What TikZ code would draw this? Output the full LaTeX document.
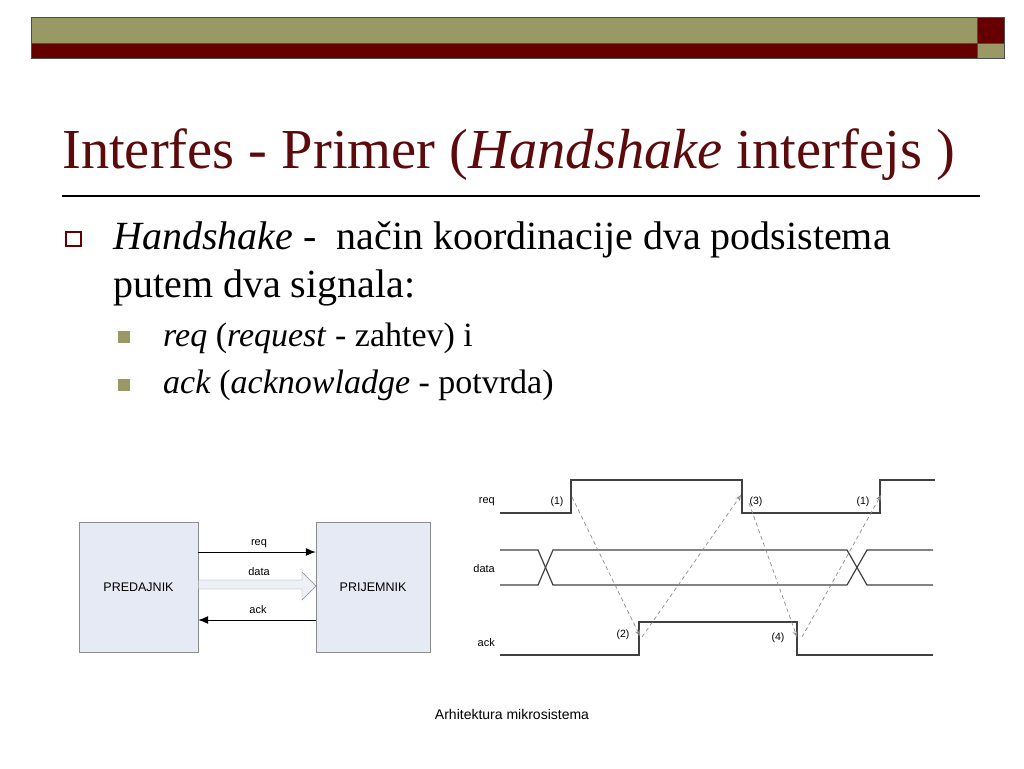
\documentclass[tikz,border=0pt]{standalone}
\usepackage{fontspec}
\setmainfont{Liberation Serif}
\setsansfont{Liberation Sans}
\usetikzlibrary{arrows.meta}
\definecolor{titlered}{RGB}{92,10,12}
\definecolor{barred}{RGB}{102,0,0}
\definecolor{barolive}{RGB}{153,153,102}
\definecolor{boxfill}{RGB}{230,234,244}
\definecolor{datafill}{RGB}{238,240,248}

\begin{document}
\begin{tikzpicture}[x=1pt, y=-1pt,
  box/.style={draw=black!45, fill=boxfill, minimum width=119, minimum height=130, inner sep=0, font=\sffamily\fontsize{12.5}{14}\selectfont},
  lbl/.style={inner sep=0, font=\sffamily\fontsize{11}{13}\selectfont},
  txt/.style={anchor=base west, inner sep=0},
  sig/.style={line width=1.2, black!75},
  hs/.style={dash pattern=on 4pt off 3pt, black!45, line width=0.7, -{Stealth[length=6pt, width=5pt, open]}}] % 座標はピクセル単位
  \useasboundingbox (0,0) rectangle (1024,768); % 余白込みの大きさ

  \draw[black!70, fill=barolive] (31,17) rectangle (977,43); % 上の帯
  \draw[black!70, fill=barred] (31,43) rectangle (977,58);
  \draw[black!70, fill=barred] (977,17) rectangle (1004,43);
  \draw[black!70, fill=barolive] (977,43) rectangle (1004,58);

  \node[txt, text=titlered, font=\fontsize{56.5}{60}\selectfont] (title) at (62,168) {Interfes - Primer (\textit{Handshake} interfejs )}; % 見出し
  \draw[line width=1.3] (62,196) -- (980,196); % 見出しの下線

  \draw[barred, line width=2] (66,232) rectangle (81,246); % 箇条書きの記号
  \node[txt, font=\fontsize{40}{44}\selectfont] (item) at (113,249) {\textit{Handshake} -~ način koordinacije dva podsistema};
  \node[txt, font=\fontsize{40}{44}\selectfont] (itemb) at (113,297) {putem dva signala:};
  \fill[barolive] (118,331) rectangle (130,343);
  \fill[barolive] (118,379) rectangle (130,391);
  \node[txt, font=\fontsize{34}{38}\selectfont] (sreq) at (163,346) {\textit{req} (\textit{request} - zahtev) i};
  \node[txt, font=\fontsize{34}{38}\selectfont] (sack) at (163,393) {\textit{ack} (\textit{acknowladge} - potvrda)};

  % ブロック図
  \node[box] (pred) at (138.5,587.5) {PREDAJNIK};
  \node[box, minimum width=114] (prij) at (373,587.5) {PRIJEMNIK};
  \draw[line width=1, -{Latex[length=10pt, width=8pt]}] ([yshift=35.5pt]pred.east) -- ([yshift=35.5pt]prij.west);
  \draw[black!45, fill=datafill] (198.5,580) -- (302,580) -- (302,572) -- (316,586) -- (302,600) -- (302,589) -- (198.5,589); % 中抜きの矢印
  \draw[line width=1, -{Latex[length=10pt, width=8pt]}] ([yshift=-32.5pt]prij.west) -- ([yshift=-32.5pt]pred.east);
  \node[lbl] (lreq) at (259,544) {req};
  \node[lbl] (ldata) at (259,572) {data};
  \node[lbl] (lack) at (258,610) {ack};

  % タイミング図
  \node[lbl, anchor=east] (treq) at (495,502) {req};
  \node[lbl, anchor=east] (tdata) at (495,569) {data};
  \node[lbl, anchor=east] (tack) at (495,643) {ack};
  \draw[sig] (500,513) -- (571,513) -- (571,480) -- (742,480) -- (742,513) -- (880,513) -- (880,480) -- (935,480); % req
  \draw[sig] (500,550) -- (538,550) -- (553,585) -- (847,585) -- (867,550) -- (933,550); % data
  \draw[sig] (500,585) -- (538,585) -- (553,550) -- (847,550) -- (867,585) -- (933,585);
  \draw[sig] (500,655) -- (639,655) -- (639,622) -- (797,622) -- (797,655) -- (933,655); % ack

  \node[lbl, font=\sffamily\fontsize{10.5}{12}\selectfont] (n1) at (557,502) {(1)};
  \node[lbl, font=\sffamily\fontsize{10.5}{12}\selectfont] (n3) at (756,502) {(3)};
  \node[lbl, font=\sffamily\fontsize{10.5}{12}\selectfont] (n1b) at (863,502) {(1)};
  \node[lbl, font=\sffamily\fontsize{10.5}{12}\selectfont] (n2) at (623,635) {(2)};
  \node[lbl, font=\sffamily\fontsize{10.5}{12}\selectfont] (n4) at (778,638) {(4)};

  \coordinate (q1) at (572,497);
  \coordinate (a1) at (640,636);
  \coordinate (a2) at (642,637);
  \coordinate (q2) at (741,495);
  \coordinate (q3) at (749,503);
  \coordinate (a3) at (797,637);
  \coordinate (a4) at (802,637);
  \coordinate (q4) at (881,495);
  \draw[hs] (q1) -- (a1); % 点線の矢印
  \draw[hs] (a2) -- (q2);
  \draw[hs] (q3) -- (a3);
  \draw[hs] (a4) -- (q4);

  \node[lbl, font=\sffamily\fontsize{14}{16}\selectfont] (foot) at (512,714) {Arhitektura mikrosistema}; % フッター
\end{tikzpicture}
\end{document}
